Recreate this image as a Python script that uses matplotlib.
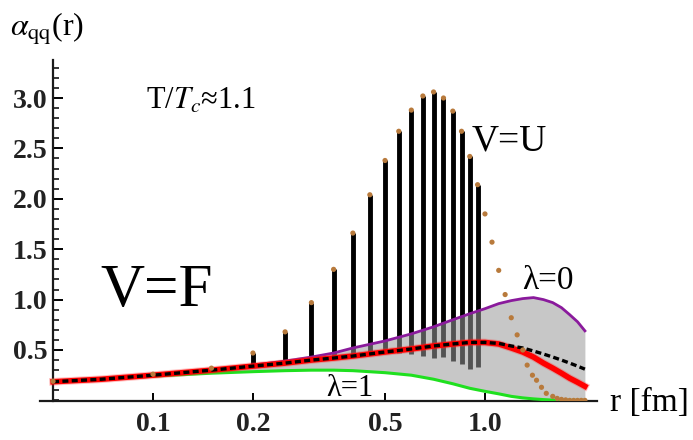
import matplotlib
matplotlib.use("Agg")
import matplotlib.pyplot as plt
from matplotlib.ticker import FixedLocator, MultipleLocator, NullLocator, FixedFormatter

plt.rcParams['font.family'] = ['Liberation Serif', 'DejaVu Serif']
plt.rcParams['mathtext.fontset'] = 'stix'

# smooth curves: coupling alpha_qq(r) for V=F
r_curve = [0.05, 0.07, 0.1, 0.15, 0.2, 0.25, 0.3, 0.35, 0.4, 0.5, 0.6, 0.7, 0.8, 0.9,
           1.0, 1.1, 1.2, 1.3, 1.4, 1.5, 1.6, 1.7, 1.8, 1.9, 2.0]
alpha_red = [0.185, 0.21, 0.25, 0.30, 0.34, 0.37, 0.40, 0.42, 0.44, 0.48, 0.51, 0.54, 0.56, 0.575,
             0.575, 0.56, 0.52, 0.48, 0.43, 0.37, 0.32, 0.27, 0.22, 0.18, 0.14]
alpha_black = [0.185, 0.21, 0.25, 0.30, 0.34, 0.37, 0.40, 0.42, 0.44, 0.48, 0.51, 0.54, 0.56, 0.575,
               0.575, 0.565, 0.54, 0.52, 0.49, 0.46, 0.43, 0.40, 0.37, 0.34, 0.31]
alpha_lam0 = [0.185, 0.21, 0.25, 0.30, 0.35, 0.39, 0.43, 0.47, 0.52, 0.59, 0.66, 0.73, 0.80, 0.86,
              0.91, 0.96, 0.99, 1.01, 1.02, 1.00, 0.97, 0.92, 0.85, 0.78, 0.69]
alpha_lam1 = [0.185, 0.21, 0.24, 0.27, 0.285, 0.295, 0.30, 0.30, 0.295, 0.275, 0.25, 0.21, 0.165, 0.12,
              0.09, 0.065, 0.04, 0.025, 0.015, 0.008, 0.003, 0.0, 0.0, 0.0, 0.0]

# V=U points
r_u = [0.05, 0.1, 0.15, 0.2, 0.25, 0.3, 0.35, 0.4, 0.45, 0.5, 0.55, 0.6, 0.65, 0.7, 0.75, 0.8,
       0.85, 0.9, 0.95, 1.0, 1.05, 1.1, 1.15, 1.2, 1.25, 1.3, 1.34, 1.39, 1.43, 1.48, 1.53,
       1.6, 1.65, 1.7, 1.75, 1.8, 1.85, 1.9, 1.95, 2.0]
alpha_u = [0.19, 0.26, 0.32, 0.47, 0.68, 0.97, 1.30, 1.66, 2.04, 2.38, 2.67, 2.88, 3.02, 3.06, 3.00, 2.87,
           2.67, 2.42, 2.14, 1.85, 1.57, 1.29, 1.05, 0.82, 0.65, 0.50, 0.35, 0.25, 0.20, 0.13, 0.07,
           0.04, 0.02, 0.01, 0.005, 0.0, 0.0, 0.0, 0.0, 0.0]

# vertical spikes of the V=U result
r_bar = [0.2, 0.25, 0.3, 0.35, 0.4, 0.45, 0.5, 0.55, 0.6, 0.65, 0.7, 0.75, 0.8, 0.85, 0.9, 0.95]
bar_top = [0.47, 0.68, 0.97, 1.30, 1.66, 2.04, 2.38, 2.67, 2.88, 3.02, 3.06, 3.00, 2.87, 2.67, 2.42, 2.14]
bar_base = [0.33, 0.37, 0.40, 0.42, 0.44, 0.46, 0.47, 0.47, 0.46, 0.44, 0.42, 0.43, 0.39, 0.36, 0.31, 0.33]

x_ticks = [0.1, 0.2, 0.5, 1.0]
x_ticklabels = ['0.1', '0.2', '0.5', '1.0']
y_ticks = [0.5, 1.0, 1.5, 2.0, 2.5, 3.0]
y_ticklabels = ['0.5', '1.0', '1.5', '2.0', '2.5', '3.0']

W, H = 693, 440
fig = plt.figure(figsize=(W / 100, H / 100), dpi=100)
ax = fig.add_axes([40 / W, (H - 401) / H, (597 - 40) / W, (401 - 60) / H])
ax.set_xscale('log')
ax.set_xlim(0.04567, 2.175)
ax.set_ylim(-0.006, 3.377)

ax.vlines(r_bar, bar_base, bar_top, colors='black', linewidth=3.5, zorder=1)
ax.fill_between(r_curve, alpha_lam1, alpha_lam0, color='#999999', alpha=0.55,
                linewidth=0, zorder=2)
ax.plot(r_curve, alpha_lam1, color='#1fe01f', linewidth=2.2, zorder=3)
ax.plot(r_curve, alpha_lam0, color='#8a1a9c', linewidth=2.0, zorder=3)
ax.plot(r_curve, alpha_red, color='#ff3030', linewidth=5.5, alpha=0.3, zorder=4)
ax.plot(r_curve, alpha_red, color='#ff0000', linewidth=4.0, zorder=4)
ax.plot(r_curve, alpha_black, color='black', linewidth=2.4, dashes=(1.8, 1.0), zorder=5)
ax.scatter(r_u, alpha_u, s=14, color='#b87a3c', edgecolors='none', zorder=6)

for s in ['top', 'right']:
    ax.spines[s].set_visible(False)
ax.spines['left'].set_position(('data', 0.05))
for s in ['left', 'bottom']:
    ax.spines[s].set_linewidth(1.6)
    ax.spines[s].set_color('#1a1a1a')

ax.xaxis.set_major_locator(FixedLocator(x_ticks))
ax.xaxis.set_major_formatter(FixedFormatter(x_ticklabels))
ax.xaxis.set_minor_locator(NullLocator())
ax.yaxis.set_major_locator(FixedLocator(y_ticks))
ax.yaxis.set_major_formatter(FixedFormatter(y_ticklabels))
ax.yaxis.set_minor_locator(MultipleLocator(0.1))
ax.tick_params(axis='x', which='major', direction='in', length=6, width=1.4, pad=8)
ax.tick_params(axis='y', which='major', direction='in', length=7, width=1.4, pad=4)
ax.tick_params(axis='y', which='minor', direction='in', length=4, width=1.1)
for lab in ax.get_xticklabels() + ax.get_yticklabels():
    lab.set_fontsize(20)
    lab.set_fontweight('bold')
    lab.set_color('#222222')

def ftext(x, y, s, size, **kw):
    fig.text(x / W, 1 - y / H, s, fontsize=size, va='center', ha='left', **kw)

ftext(10, 29, r'$\alpha_{\mathrm{qq}}$(r)', 23)
ftext(146, 101, 'T/$T_c$≈1.1', 22)
ftext(100, 291, 'V=F', 44)
ftext(472, 141, 'V=U', 27)
ftext(522, 281, 'λ=0', 24)
ftext(326, 388, 'λ=1', 22)
ftext(610, 403, 'r [fm]', 24)

fig.savefig('out.png', dpi=100)
